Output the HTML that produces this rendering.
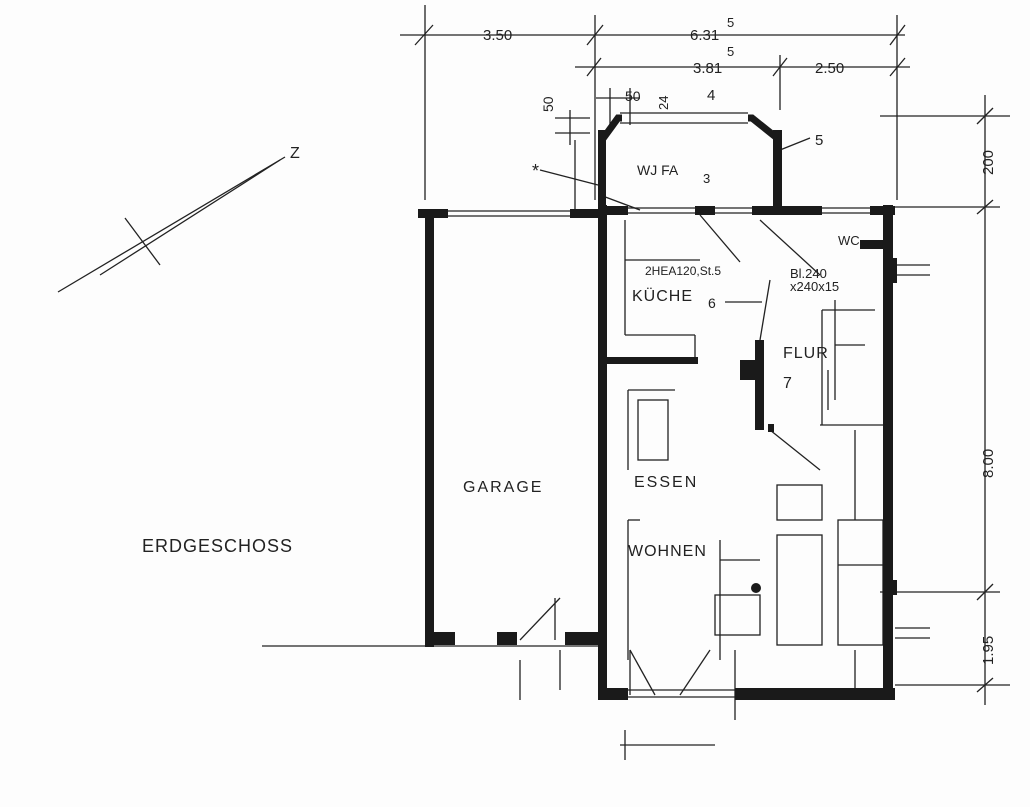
<!DOCTYPE html>
<html><head><meta charset="utf-8"><style>
html,body{margin:0;padding:0;background:#fdfdfd;}
svg{display:block}
text{font-family:"Liberation Sans",sans-serif;fill:#222}
</style></head><body>
<svg width="1030" height="807" viewBox="0 0 1030 807" xmlns="http://www.w3.org/2000/svg">
<rect width="1030" height="807" fill="#fdfdfd"/>
<g stroke="#222" stroke-width="1.3" fill="none">
<line x1="400" y1="35" x2="905" y2="35"/>
<line x1="425" y1="5" x2="425" y2="200"/>
<line x1="595" y1="15" x2="595" y2="200"/>
<line x1="897" y1="15" x2="897" y2="200"/>
<line x1="415" y1="45" x2="433" y2="25"/><line x1="587" y1="45" x2="603" y2="25"/><line x1="890" y1="45" x2="905" y2="25"/>
<line x1="575" y1="67" x2="910" y2="67"/>
<line x1="780" y1="55" x2="780" y2="110"/>
<line x1="773" y1="76" x2="787" y2="58"/><line x1="890" y1="76" x2="905" y2="58"/><line x1="587" y1="76" x2="601" y2="58"/>
<line x1="985" y1="95" x2="985" y2="705"/>
<line x1="880" y1="116" x2="1010" y2="116"/>
<line x1="880" y1="207" x2="1000" y2="207"/>
<line x1="880" y1="592" x2="1000" y2="592"/>
<line x1="895" y1="685" x2="1010" y2="685"/>
<line x1="977" y1="124" x2="993" y2="108"/><line x1="977" y1="214" x2="993" y2="200"/><line x1="977" y1="600" x2="993" y2="584"/><line x1="977" y1="692" x2="993" y2="678"/>
<line x1="555" y1="118" x2="590" y2="118"/><line x1="555" y1="133" x2="590" y2="133"/>
<line x1="570" y1="110" x2="570" y2="145"/>
<line x1="596" y1="98" x2="640" y2="98"/><line x1="610" y1="88" x2="610" y2="125"/><line x1="630" y1="88" x2="630" y2="125"/>
<line x1="58" y1="292" x2="285" y2="157"/>
<line x1="100" y1="275" x2="280" y2="160"/>
<line x1="125" y1="218" x2="160" y2="265"/>
<line x1="262" y1="646" x2="600" y2="646"/>
<line x1="520" y1="640" x2="560" y2="598"/><line x1="555" y1="598" x2="555" y2="640"/>
<!-- windows (double lines) -->
<line x1="448" y1="211" x2="570" y2="211"/><line x1="448" y1="216" x2="570" y2="216"/>
<line x1="628" y1="208" x2="695" y2="208"/><line x1="628" y1="213" x2="695" y2="213"/>
<line x1="715" y1="208" x2="752" y2="208"/><line x1="715" y1="213" x2="752" y2="213"/>
<line x1="628" y1="690" x2="735" y2="690"/><line x1="628" y1="697" x2="735" y2="697"/>
<line x1="620" y1="113" x2="748" y2="113"/><line x1="620" y1="123" x2="748" y2="123"/>
<line x1="822" y1="208" x2="870" y2="208"/><line x1="822" y1="213" x2="870" y2="213"/>
<line x1="625" y1="220" x2="625" y2="335"/><line x1="625" y1="335" x2="695" y2="335"/><line x1="695" y1="335" x2="695" y2="360"/>
<line x1="625" y1="260" x2="700" y2="260"/>
<line x1="700" y1="215" x2="740" y2="262"/>
<line x1="760" y1="220" x2="820" y2="275"/>
<line x1="770" y1="280" x2="760" y2="340"/>
<line x1="628" y1="390" x2="675" y2="390"/><line x1="628" y1="390" x2="628" y2="470"/>
<rect x="638" y="400" width="30" height="60"/>
<line x1="628" y1="520" x2="628" y2="660"/><line x1="628" y1="520" x2="640" y2="520"/>
<line x1="720" y1="560" x2="760" y2="560"/><rect x="715" y="595" width="45" height="40"/>
<line x1="720" y1="540" x2="720" y2="660"/>
<rect x="777" y="485" width="45" height="35"/><rect x="777" y="535" width="45" height="110"/>
<rect x="838" y="520" width="45" height="125"/>
<line x1="838" y1="565" x2="883" y2="565"/>
<line x1="855" y1="430" x2="855" y2="520"/><line x1="855" y1="650" x2="855" y2="690"/>
<line x1="770" y1="430" x2="820" y2="470"/>
<line x1="820" y1="425" x2="883" y2="425"/>
<line x1="822" y1="310" x2="875" y2="310"/><line x1="822" y1="310" x2="822" y2="425"/>
<line x1="835" y1="300" x2="835" y2="400"/><line x1="835" y1="345" x2="865" y2="345"/>
<line x1="828" y1="370" x2="828" y2="410"/>
<line x1="630" y1="650" x2="655" y2="695"/><line x1="680" y1="695" x2="710" y2="650"/>
<line x1="630" y1="650" x2="630" y2="695"/>
<line x1="735" y1="650" x2="735" y2="720"/>
<line x1="620" y1="745" x2="715" y2="745"/><line x1="625" y1="730" x2="625" y2="760"/>
<line x1="520" y1="660" x2="520" y2="700"/><line x1="560" y1="650" x2="560" y2="690"/>
<line x1="540" y1="170" x2="598" y2="185"/>
<line x1="780" y1="150" x2="810" y2="138"/>
<line x1="725" y1="302" x2="762" y2="302"/>
<line x1="895" y1="265" x2="930" y2="265"/><line x1="895" y1="275" x2="930" y2="275"/>
<line x1="895" y1="628" x2="930" y2="628"/><line x1="895" y1="638" x2="930" y2="638"/>
<line x1="600" y1="195" x2="640" y2="210"/>
<line x1="575" y1="140" x2="575" y2="215"/>
</g>
<g fill="#1a1a1a">
<rect x="425" y="212" width="9" height="435"/>
<rect x="418" y="209" width="30" height="9"/>
<rect x="570" y="209" width="35" height="9"/>
<rect x="425" y="632" width="30" height="13"/>
<rect x="497" y="632" width="20" height="13"/>
<rect x="565" y="632" width="40" height="13"/>
<rect x="598" y="205" width="9" height="495"/>
<rect x="598" y="688" width="30" height="12"/>
<rect x="735" y="688" width="160" height="12"/>
<rect x="883" y="205" width="10" height="495"/>
<rect x="598" y="206" width="30" height="9"/>
<rect x="695" y="206" width="20" height="9"/>
<rect x="752" y="206" width="70" height="9"/>
<rect x="870" y="206" width="25" height="9"/>
<rect x="598" y="357" width="100" height="7"/>
<rect x="755" y="340" width="9" height="90"/>
<rect x="740" y="360" width="20" height="20"/>
<rect x="773" y="130" width="9" height="80"/>
<rect x="598" y="130" width="8" height="80"/>
<rect x="860" y="240" width="25" height="9"/>
<rect x="768" y="424" width="6" height="8"/>
<rect x="893" y="258" width="4" height="25"/>
<rect x="893" y="580" width="4" height="15"/>
<circle cx="756" cy="588" r="5"/>
</g>
<g stroke="#1a1a1a" stroke-width="7" fill="none">
<polyline points="602,140 618,118 622,118"/>
<polyline points="748,118 752,118 777,138"/>
</g>
<text x="483" y="40" font-size="15">3.50</text>
<text x="690" y="40" font-size="15">6.31</text><text x="727" y="27" font-size="13">5</text>
<text x="693" y="73" font-size="15">3.81</text><text x="727" y="56" font-size="13">5</text>
<text x="815" y="73" font-size="15">2.50</text>
<text x="625" y="101" font-size="14">50</text>
<text x="0" y="0" font-size="14" transform="translate(553,112) rotate(-90)">50</text>
<text x="0" y="0" font-size="13" transform="translate(668,110) rotate(-90)">24</text>
<text x="707" y="100" font-size="15">4</text>
<text x="815" y="145" font-size="15">5</text>
<text x="532" y="177" font-size="18">*</text>
<text x="637" y="175" font-size="14">WJ FA</text>
<text x="703" y="183" font-size="13">3</text>
<text x="290" y="158" font-size="16">Z</text>
<text x="0" y="0" font-size="15" transform="translate(993,175) rotate(-90)">200</text>
<text x="0" y="0" font-size="15" transform="translate(993,478) rotate(-90)">8.00</text>
<text x="0" y="0" font-size="15" transform="translate(993,665) rotate(-90)">1.95</text>
<text x="645" y="275" font-size="12">2HEA120,St.5</text>
<text x="632" y="301" font-size="16" letter-spacing="1">KÜCHE</text>
<text x="708" y="308" font-size="14">6</text>
<text x="790" y="278" font-size="13">Bl.240</text>
<text x="790" y="291" font-size="13">x240x15</text>
<text x="838" y="245" font-size="13">WC</text>
<text x="783" y="358" font-size="16" letter-spacing="1">FLUR</text>
<text x="783" y="388" font-size="16">7</text>
<text x="463" y="492" font-size="16" letter-spacing="2">GARAGE</text>
<text x="634" y="487" font-size="16" letter-spacing="2">ESSEN</text>
<text x="628" y="556" font-size="16" letter-spacing="1">WOHNEN</text>
<text x="142" y="552" font-size="18" letter-spacing="1">ERDGESCHOSS</text>
</svg>
</body></html>
